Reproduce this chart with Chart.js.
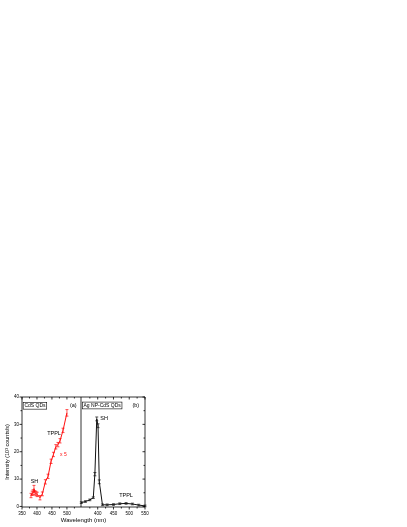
<!DOCTYPE html>
<html>
<head>
<meta charset="utf-8">
<script src="https://cdn.jsdelivr.net/npm/chart.js@4.4.1/dist/chart.umd.min.js"></script>
<style>
  html, body { margin: 0; padding: 0; background: #fff; }
  #wrap { position: relative; width: 407px; height: 527px; overflow: hidden; }
  #wrap canvas { position: absolute; left: 0; top: 0; }
</style>
</head>
<body>
<div id="wrap">
  <canvas id="chartA" width="407" height="527"></canvas>
  <canvas id="chartB" width="407" height="527"></canvas>
</div>
<script>
// (a) CdS QDs, red, scaled x5
const wlA = [380, 384, 387, 390, 393, 397, 401, 410, 418, 428, 437, 447, 455, 463, 470, 477, 487, 500];
const intA = [4.0, 4.8, 5.2, 6.5, 5.0, 4.7, 4.4, 3.2, 4.6, 9.0, 11.0, 16.5, 19.0, 21.8, 22.6, 24.0, 27.8, 34.2];
const errA = [0.8, 0.8, 0.9, 1.2, 0.8, 0.8, 0.8, 0.8, 0.7, 0.8, 0.8, 0.8, 0.8, 0.8, 0.8, 0.8, 0.8, 1.2];

// (b) Ag NP-CdS QDs, black
const wlB = [348, 361, 375, 386, 391, 397, 401, 405, 415, 430, 450, 470, 490, 510, 530, 550];
const intB = [1.4, 1.8, 2.4, 3.2, 11.8, 32.0, 29.5, 9.0, 0.6, 0.6, 0.7, 1.0, 1.1, 0.9, 0.5, 0.2];
const errB = [0.3, 0.3, 0.3, 0.3, 0.6, 0.7, 0.7, 0.7, 0.3, 0.3, 0.3, 0.3, 0.3, 0.3, 0.3, 0.3];

// tick labels
const yMajor = [0, 10, 20, 30, 40];
const yMinor = [5, 15, 25, 35];
const xMajorA = [350, 400, 450, 500];
const xMinorA = [375, 425, 475, 525];
const xMajorB = [400, 450, 500, 550];
const xMinorB = [375, 425, 475, 525];

const FONT = '"Liberation Sans", Arial, sans-serif';
Chart.defaults.font.family = FONT;
Chart.defaults.color = '#000';
Chart.defaults.animation = false;

// box + ticks + text labels
const frame = {
  id: 'frame',
  afterDraw(chart, args, o) {
    const { ctx, chartArea: a, scales: { x, y } } = chart;
    ctx.save();
    ctx.strokeStyle = '#000';
    ctx.lineWidth = 0.8;
    ctx.beginPath();
    // no right edge on panel (a): panel (b) draws the shared one
    ctx.moveTo(a.right, a.top); ctx.lineTo(a.left, a.top);
    ctx.lineTo(a.left, a.bottom); ctx.lineTo(a.right, a.bottom);
    if (o.right) ctx.lineTo(a.right, a.top);
    const xt = (vals, len) => vals.forEach(v => {
      const p = x.getPixelForValue(v);
      ctx.moveTo(p, a.bottom); ctx.lineTo(p, a.bottom + len);
      ctx.moveTo(p, a.top); ctx.lineTo(p, a.top + len);
    });
    xt(o.xMajor, 2.5);
    xt(o.xMinor, 1.5);
    if (o.left) {
      yMajor.forEach(v => { const p = y.getPixelForValue(v); ctx.moveTo(a.left, p); ctx.lineTo(a.left - 2.5, p); });
      yMinor.forEach(v => { const p = y.getPixelForValue(v); ctx.moveTo(a.left, p); ctx.lineTo(a.left - 1.5, p); });
    }
    if (o.right) {
      yMajor.forEach(v => { const p = y.getPixelForValue(v); ctx.moveTo(a.right, p); ctx.lineTo(a.right - 2.5, p); });
      yMinor.forEach(v => { const p = y.getPixelForValue(v); ctx.moveTo(a.right, p); ctx.lineTo(a.right - 1.5, p); });
    }
    ctx.stroke();

    ctx.textBaseline = 'middle';
    ctx.textAlign = 'left';
    o.texts.forEach(t => {
      ctx.font = (t.size || 5.5) + 'px ' + FONT;
      ctx.fillStyle = t.color || '#000';
      const px = x.getPixelForValue(t.x), py = y.getPixelForValue(t.y);
      ctx.fillText(t.text, px, py);
      if (t.box) {
        const w = ctx.measureText(t.text).width;
        ctx.lineWidth = 0.6;
        ctx.strokeRect(px - 1.2, py - 3.4, w + 2.4, 6.8);
      }
    });
    if (o.xTitle) {
      ctx.font = '6px ' + FONT;
      ctx.fillStyle = '#000';
      ctx.textAlign = 'center';
      ctx.fillText(o.xTitle, o.xTitleX, a.bottom + 13.5);
    }
    ctx.restore();
  }
};

const errBars = {
  id: 'errBars',
  afterDatasetsDraw(chart) {
    const { ctx, scales: { y } } = chart;
    chart.data.datasets.forEach((ds, i) => {
      const meta = chart.getDatasetMeta(i);
      ctx.save();
      ctx.strokeStyle = ds.borderColor;
      ctx.lineWidth = 0.7;
      ctx.beginPath();
      meta.data.forEach((pt, j) => {
        const v = ds.data[j].y, e = ds.err[j];
        const t = y.getPixelForValue(v + e), b = y.getPixelForValue(v - e);
        ctx.moveTo(pt.x, t); ctx.lineTo(pt.x, b);
        ctx.moveTo(pt.x - 1.5, t); ctx.lineTo(pt.x + 1.5, t);
        ctx.moveTo(pt.x - 1.5, b); ctx.lineTo(pt.x + 1.5, b);
      });
      ctx.stroke();
      ctx.restore();
    });
  }
};

function xScale(min, max, majors) {
  return {
    type: 'linear', min: min, max: max,
    afterBuildTicks: s => { s.ticks = majors.map(v => ({ value: v })); },
    afterFit: s => { s.height = 20; },
    grid: { display: false, drawTicks: false },
    border: { display: false },
    ticks: { font: { size: 4.5 }, padding: 4, maxRotation: 0, autoSkip: false }
  };
}

const chartA = new Chart(document.getElementById('chartA'), {
  type: 'line',
  data: {
    datasets: [{
      data: wlA.map((w, i) => ({ x: w, y: intA[i] })),
      err: errA,
      borderColor: '#ff1010',
      borderWidth: 1,
      pointRadius: 0,
      tension: 0
    }]
  },
  options: {
    responsive: false,
    layout: { padding: { left: 4, top: 397, right: 326, bottom: 0 } },
    plugins: {
      legend: { display: false },
      tooltip: { enabled: false },
      frame: {
        xMajor: xMajorA, xMinor: xMinorA, left: true, right: false,
        texts: [
          { text: 'CdS QDs', x: 358, y: 36.8, size: 5, box: true },
          { text: '(a)', x: 510, y: 37 },
          { text: 'SH', x: 379, y: 9.1 },
          { text: 'TPPL', x: 434, y: 26.5 },
          { text: 'x 5', x: 477, y: 19, color: '#ff1010', size: 5 }
        ]
      }
    },
    scales: {
      x: xScale(350, 547, xMajorA),
      y: {
        min: -0.2, max: 40,
        afterBuildTicks: s => { s.ticks = yMajor.map(v => ({ value: v })); },
        afterFit: s => { s.width = 18; },
        grid: { display: false, drawTicks: false },
        border: { display: false },
        ticks: { font: { size: 4.5 }, padding: 3 },
        title: { display: true, text: 'Intensity (10³ counts/s)', font: { size: 5.5 }, padding: 0 }
      }
    }
  },
  plugins: [errBars, frame]
});

new Chart(document.getElementById('chartB'), {
  type: 'line',
  data: {
    datasets: [{
      data: wlB.map((w, i) => ({ x: w, y: intB[i] })),
      err: errB,
      borderColor: '#111',
      borderWidth: 1,
      pointRadius: 0,
      tension: 0
    }]
  },
  options: {
    responsive: false,
    layout: { padding: { left: 81, top: 397, right: 262, bottom: 0 } },
    plugins: {
      legend: { display: false },
      tooltip: { enabled: false },
      frame: {
        xMajor: xMajorB, xMinor: xMinorB, left: false, right: true,
        xTitle: 'Wavelength (nm)',
        xTitleX: (chartA.chartArea.left + 145) / 2,
        texts: [
          { text: 'Ag NP-CdS QDs', x: 355, y: 36.9, size: 5, box: true },
          { text: '(b)', x: 510, y: 37 },
          { text: 'SH', x: 408, y: 32 },
          { text: 'TPPL', x: 468, y: 4 }
        ]
      }
    },
    scales: {
      x: xScale(347, 550, xMajorB),
      y: { display: false, min: -0.2, max: 40 }
    }
  },
  plugins: [errBars, frame]
});
</script>
</body>
</html>
